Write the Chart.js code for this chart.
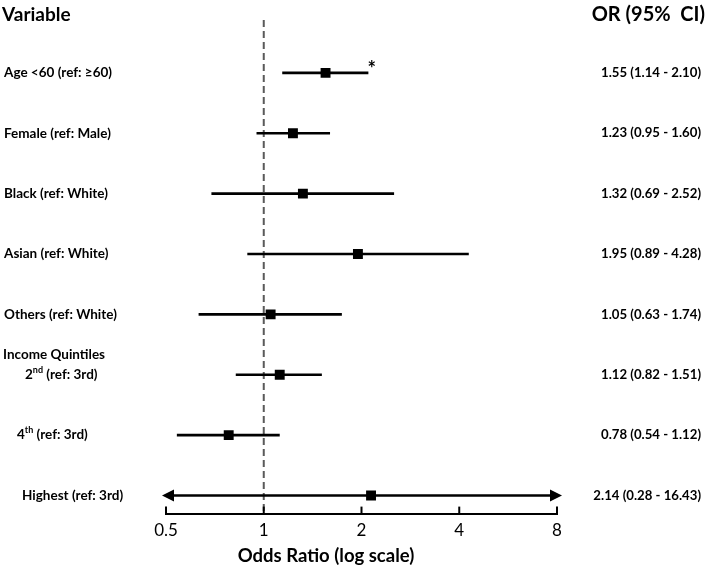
<!DOCTYPE html>
<html>
<head>
<meta charset="utf-8">
<script src="https://cdn.jsdelivr.net/npm/chart.js@4.4.1/dist/chart.umd.min.js"></script>
<style>
  html, body { margin: 0; padding: 0; background: #fff; }
  #wrap { width: 709px; height: 571px; }
</style>
</head>
<body>
<div id="wrap"><canvas id="forest"></canvas></div>
<script>
// rows, top to bottom; "^" marks a superscript suffix
const variables = [
  "Age <60 (ref: \u226560)",
  "Female (ref: Male)",
  "Black (ref: White)",
  "Asian (ref: White)",
  "Others (ref: White)",
  "2^nd (ref: 3rd)",
  "4^th (ref: 3rd)",
  "Highest (ref: 3rd)",
];
const oddsRatio = [1.55, 1.23, 1.32, 1.95, 1.05, 1.12, 0.78, 2.14];
const ciLower = [1.14, 0.95, 0.69, 0.89, 0.63, 0.82, 0.54, 0.28];
const ciUpper = [2.10, 1.60, 2.52, 4.28, 1.74, 1.51, 1.12, 16.43];
const significant = [true, false, false, false, false, false, false, false];
const groupLabel = "Income Quintiles";
const groupStart = 5;
const xTicks = [0.5, 1, 2, 4, 8];
const xTitle = "Odds Ratio (log scale)";

const FONT = "Lato, 'Open Sans', sans-serif";
const labelIndent = [0, 0, 0, 0, 0, 21, 13, 18];

const fmt = (v) => v.toFixed(2);

const forestPlugin = {
  id: "forest",
  beforeDatasetsDraw(chart) {
    const { ctx, chartArea, scales } = chart;
    const xs = scales.x, ys = scales.y;
    ctx.save();

    // reference line at OR = 1
    const x1 = xs.getPixelForValue(1);
    ctx.strokeStyle = "#5a5a5a";
    ctx.lineWidth = 2;
    ctx.setLineDash([7, 4]);
    ctx.beginPath();
    ctx.moveTo(x1, chartArea.top);
    ctx.lineTo(x1, chartArea.bottom);
    ctx.stroke();
    ctx.setLineDash([]);

    // confidence intervals
    ctx.strokeStyle = "#000";
    ctx.fillStyle = "#000";
    ctx.lineWidth = 2.6;
    const min = xs.min, max = xs.max;
    variables.forEach((_, i) => {
      const y = ys.getPixelForValue(i);
      const loClip = ciLower[i] < min, hiClip = ciUpper[i] > max;
      const xl = xs.getPixelForValue(Math.max(ciLower[i], min));
      const xr = xs.getPixelForValue(Math.min(ciUpper[i], max));
      ctx.beginPath();
      ctx.moveTo(xl, y);
      ctx.lineTo(xr, y);
      ctx.stroke();
      if (loClip) {
        ctx.beginPath();
        ctx.moveTo(xl - 4, y);
        ctx.lineTo(xl + 8, y - 6);
        ctx.lineTo(xl + 8, y + 6);
        ctx.closePath();
        ctx.fill();
      }
      if (hiClip) {
        ctx.beginPath();
        ctx.moveTo(xr + 5, y);
        ctx.lineTo(xr - 7, y - 6);
        ctx.lineTo(xr - 7, y + 6);
        ctx.closePath();
        ctx.fill();
      }
      if (significant[i]) {
        ctx.font = "bold 20px " + FONT;
        ctx.textAlign = "left";
        ctx.textBaseline = "middle";
        ctx.fillText("*", xr - 1, y - 3);
      }
    });
    ctx.restore();
  },
  afterDraw(chart) {
    const { ctx, scales, chartArea } = chart;
    const xs = scales.x, ys = scales.y;
    ctx.save();
    ctx.fillStyle = "#000";

    // tick marks pointing up into the plot
    ctx.strokeStyle = "#000";
    ctx.lineWidth = 2;
    xTicks.forEach((t) => {
      const x = xs.getPixelForValue(t);
      ctx.beginPath();
      ctx.moveTo(x, chartArea.bottom);
      ctx.lineTo(x, chartArea.bottom - 7);
      ctx.stroke();
    });

    // x axis title, sitting left of centre as in the original
    ctx.textBaseline = "middle";
    ctx.textAlign = "center";
    ctx.font = "bold 18.5px " + FONT;
    ctx.fillText(xTitle, 326, chartArea.bottom + 42);

    // headers
    ctx.font = "bold 19px " + FONT;
    ctx.textAlign = "left";
    ctx.fillText("Variable", 2, 15);
    ctx.font = "bold 20px " + FONT;
    ctx.textAlign = "right";
    ctx.fillText("OR (95%  CI)", 705, 15);

    // row labels
    const base = "bold 13.5px " + FONT;
    variables.forEach((lab, i) => {
      const y = ys.getPixelForValue(i);
      let x = 4 + labelIndent[i];
      ctx.textAlign = "left";
      ctx.font = base;
      const m = lab.match(/^(\S)\^(\S+)(.*)$/);
      if (m) {
        ctx.fillText(m[1], x, y);
        x += ctx.measureText(m[1]).width;
        ctx.font = "bold 9px " + FONT;
        ctx.fillText(m[2], x, y - 5);
        x += ctx.measureText(m[2]).width;
        ctx.font = base;
        ctx.fillText(m[3], x, y);
      } else {
        ctx.fillText(lab, x, y);
      }
      // estimate and interval column
      ctx.font = "bold 13.2px " + FONT;
      ctx.textAlign = "right";
      ctx.fillText(`${fmt(oddsRatio[i])} (${fmt(ciLower[i])} - ${fmt(ciUpper[i])})`, 701, y);
    });
    ctx.font = base;
    ctx.textAlign = "left";
    ctx.fillText(groupLabel, 3, ys.getPixelForValue(groupStart) - 20);
    ctx.restore();
  },
};

new Chart(document.getElementById("forest"), {
  type: "scatter",
  data: {
    datasets: [
      {
        data: oddsRatio.map((v, i) => ({ x: v, y: i })),
        pointStyle: "rect",
        pointRadius: 7,
        pointHoverRadius: 7,
        backgroundColor: "#000",
        borderColor: "#000",
        borderWidth: 0,
      },
    ],
  },
  options: {
    responsive: true,
    maintainAspectRatio: false,
    animation: false,
    layout: { padding: { top: 20, left: 166, right: 152, bottom: 23 } },
    plugins: { legend: { display: false }, tooltip: { enabled: false } },
    scales: {
      x: {
        type: "logarithmic",
        min: 0.5,
        max: 8,
        afterBuildTicks: (axis) => {
          axis.ticks = xTicks.map((v) => ({ value: v }));
        },
        grid: { display: false, drawTicks: false },
        border: { display: true, color: "#000", width: 2 },
        ticks: {
          color: "#000",
          padding: 7,
          font: { family: FONT, size: 17 },
          callback: (v) => String(v),
          maxRotation: 0,
        },
        title: { display: false },
      },
      y: {
        type: "linear",
        reverse: true,
        min: -0.875,
        max: 7.3,
        display: false,
      },
    },
  },
  plugins: [forestPlugin],
});
</script>
</body>
</html>
